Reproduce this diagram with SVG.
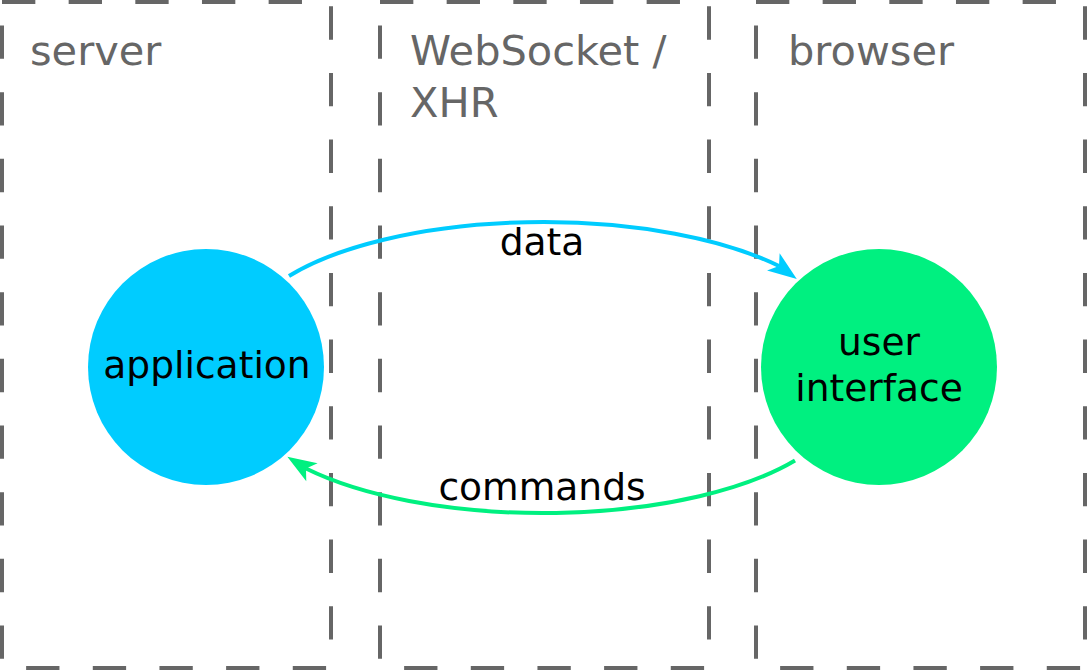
<svg xmlns="http://www.w3.org/2000/svg" width="1087" height="670" viewBox="0 0 1087 670">
<style>
.lane{fill:none;stroke:#666;stroke-width:4;stroke-dasharray:33.33 33.33}
.hdr{font-family:"DejaVu Sans",sans-serif;font-size:41.5px;fill:#666}
.lbl{font-family:"DejaVu Sans",sans-serif;font-size:37.6px;fill:#000;text-anchor:middle}
.conn{fill:none;stroke-width:4}
</style>
<defs>
<marker id="ahBlue" markerUnits="userSpaceOnUse" viewBox="-30 -12 32 24" refX="-22" refY="0" markerWidth="32" markerHeight="24" orient="36">
<path d="M0,0 L-29,-10.7 L-22,0 L-29,10.7 Z" fill="#00CCFF"/>
</marker>
<marker id="ahGreen" markerUnits="userSpaceOnUse" viewBox="-30 -12 32 24" refX="-22" refY="0" markerWidth="32" markerHeight="24" orient="212">
<path d="M0,0 L-29,-10.7 L-22,0 L-29,10.7 Z" fill="#00F080"/>
</marker>
</defs>
<rect width="1087" height="670" fill="#fff"/>
<g id="lane-server">
<rect class="lane" x="2" y="2" width="329" height="666"/>
<text class="hdr" x="30" y="65">server</text>
</g>
<g id="lane-transport">
<rect class="lane" x="380" y="2" width="329" height="666"/>
<text class="hdr" x="410" y="65">WebSocket /</text>
<text class="hdr" x="410" y="117">XHR</text>
</g>
<g id="lane-browser">
<rect class="lane" x="756" y="2" width="329" height="666"/>
<text class="hdr" x="788" y="65">browser</text>
</g>
<g id="connectors">
<path class="conn" stroke="#00CCFF" d="M289,276 A300,115 0 0,1 779,266" marker-end="url(#ahBlue)"/>
<text class="lbl" x="542" y="255">data</text>
<path class="conn" stroke="#00F080" d="M795,460.5 A300,115 0 0,1 306,468.5" marker-end="url(#ahGreen)"/>
<text class="lbl" x="542" y="500">commands</text>
</g>
<g id="node-application">
<circle cx="206" cy="367" r="118" fill="#00CCFF"/>
<text class="lbl" x="207" y="378">application</text>
</g>
<g id="node-ui">
<circle cx="879" cy="367" r="118" fill="#00F080"/>
<text class="lbl" x="879" y="355">user</text>
<text class="lbl" x="879" y="401">interface</text>
</g>
</svg>
